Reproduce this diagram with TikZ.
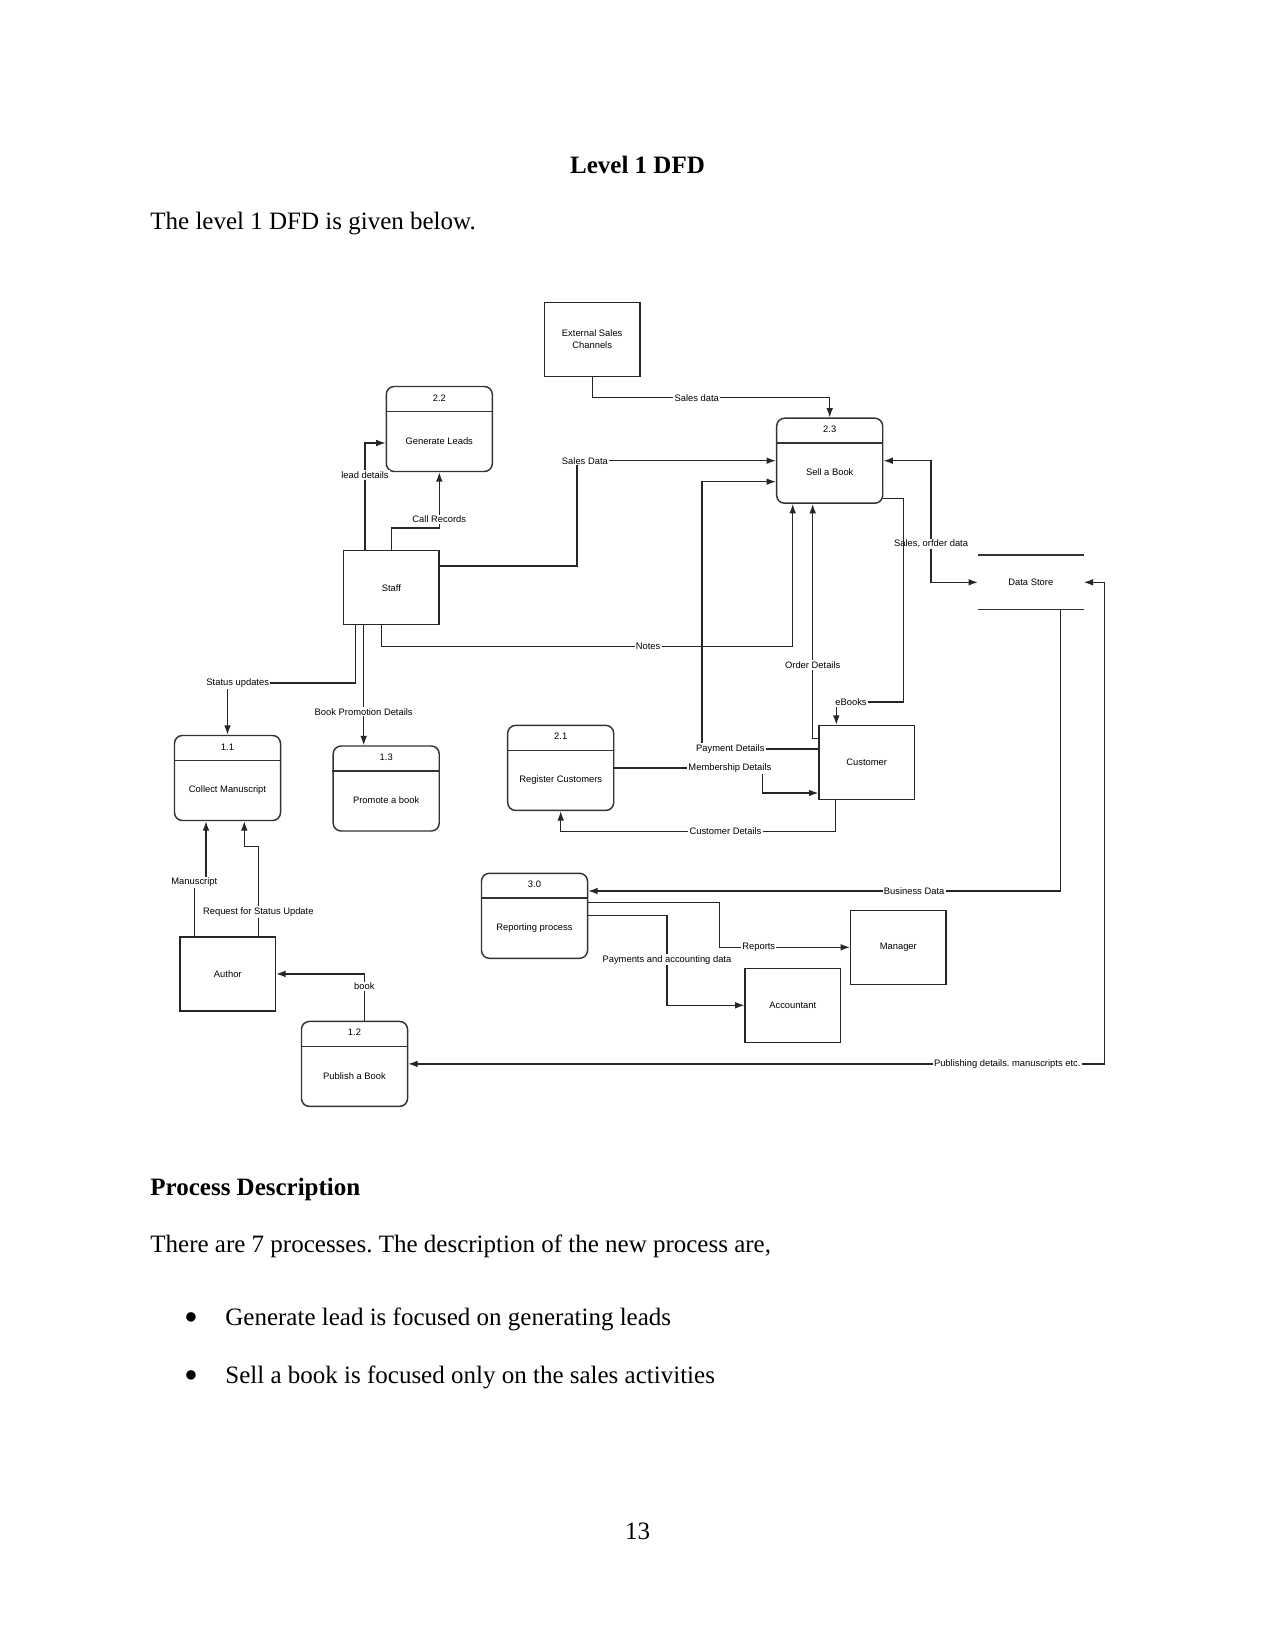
\documentclass[tikz,border=0pt]{standalone}
\usepackage{fontspec}
\setmainfont{Liberation Serif}
\newfontfamily\dfdfont{Liberation Sans}
\frenchspacing
\usetikzlibrary{calc,arrows.meta}
\tikzset{
	>={Latex[length=4.5pt,width=3.2pt]},
	proc/.style={draw=black!80, line width=0.7pt, rounded corners=3.8pt, minimum width=50.9pt, minimum height=40.8pt, inner sep=0pt},
	ent/.style={draw=black!85, line width=0.7pt, minimum width=45.7pt, minimum height=35.5pt, inner sep=0pt, align=center, font=\dfdfont\fontsize{4.5}{5.5}\selectfont},
	store/.style={minimum width=50.4pt, minimum height=25.6pt, inner sep=0pt, font=\dfdfont\fontsize{4.5}{5.4}\selectfont},
	divider/.style={draw=black!80, line width=0.7pt},
	txt/.style={inner sep=0pt, font=\dfdfont\fontsize{4.5}{5.4}\selectfont},
	lbl/.style={fill=white, inner sep=0.6pt, font=\dfdfont\fontsize{4.5}{5.4}\selectfont},
	flow/.style={draw=black!85, line width=0.6pt, ->},
	flowboth/.style={draw=black!85, line width=0.6pt, <->},
	page/.style={inner sep=0pt, font=\fontsize{12}{14.4}\selectfont},
	dot/.style={inner sep=0pt, font=\fontsize{19}{20}\selectfont},
}
\def\procbox(#1)(#2)[#3]#4{%
	\node[proc] (#1) at (#2) {};
	\draw[divider] ($(#1.north west)+(0,25.6)$) -- ($(#1.north east)+(0,25.6)$);
	\node[txt] (#1-no) at ($(#1.north)+(0,12)$) {#3};
	\node[txt] (#1-name) at ($(#1.center)+(0,11.8)$) {#4};
}

\begin{document}
\begin{tikzpicture}[x=0.48pt, y=-0.48pt]
			%%%%% START %%%%%
			
			\fill[white] (0,0) rectangle (1275,1650);
			
			\node[page, anchor=base] (title) at (637.5,173.5) {\bfseries Level 1 DFD};
			\node[page, anchor=base west] (intro) at (150,230) {The level 1 DFD is given below.};
			
			\procbox(p22)(439.3,429)[2.2]{Generate Leads}
			\procbox(p23)(829.7,460.7)[2.3]{Sell a Book}
			\procbox(p11)(227.5,778)[1.1]{Collect Manuscript}
			\procbox(p13)(386.2,788.5)[1.3]{Promote a book}
			\procbox(p21)(560.7,767.9)[2.1]{Register Customers}
			\procbox(p30)(534.5,915.8)[3.0]{Reporting process}
			\procbox(p12)(354.5,1063.9)[1.2]{Publish a Book}
			
			\node[ent] (ext) at (592.2,339.3) {External Sales\\Channels};
			\node[ent] (staff) at (391.3,587.7) {Staff};
			\node[ent] (cust) at (866.7,762.5) {Customer};
			\node[ent] (author) at (227.8,973.9) {Author};
			\node[ent] (mgr) at (898.3,947.3) {Manager};
			\node[ent] (acct) at (792.8,1005.3) {Accountant};
			
			\node[store] (ds) at (1030.8,582.3) {Data Store};
			\draw[divider] (ds.north west) -- (ds.north east);
			\draw[divider] (ds.south west) -- (ds.south east);
			
			\draw[flow] (ext.south) -- ++(0,20.7) -| (p23.north) node[lbl, pos=0.22] {Sales data};
			
			\draw[flow] ($(staff.north west)+(22,0)$) |- ($(p22.west)+(0,14)$) node[lbl, pos=0.35] {lead details};
			\draw[flow] (staff.north) -- ++(0,-22) -| (p22.south) node[lbl, pos=0.578] {Call Records};
			\draw[flow] ($(staff.east)+(0,-21.7)$) -- ++(137.3,0) |- (p23.west) node[lbl, pos=0.52] {Sales Data};
			\draw[flow] ($(staff.south)+(-9.6,0)$) -- ++(0,21.3) -| ($(p23.south)+(-37,0)$) node[lbl, pos=0.324] {Notes};
			\draw[flow] ($(staff.south)+(-36,0)$) -- ++(0,57.6) -| (p11.north) node[lbl, pos=0.46] {Status updates};
			\draw[flow] ($(staff.south)+(-27.6,0)$) -- ($(p13.north)+(-22.5,0)$) node[lbl, pos=0.72] {Book Promotion Details};
			
			\draw[flow] ($(author.north)+(-33.5,0)$) -- ++(0,-56.7) node[lbl, pos=0.95] {Manuscript} -| ($(p11.south)+(-21.5,0)$);
			\draw[flow] ($(author.north)+(30.5,0)$) -- ++(0,-90) node[lbl, pos=0.27] {Request for Status Update} -| ($(p11.south)+(16.8,0)$);
			\draw[flow] ($(p12.north)+(9.8,0)$) |- (author.east) node[lbl, pos=0.367] {book};
			
			\draw[flowboth] (p12.east) -| ($(ds.east)+(21,0)$) node[lbl, pos=0.43] {Publishing details. manuscripts etc.} -- (ds.east);
			\draw[flowboth] (p23.east) -- ++(47.6,0) |- (ds.west) node[lbl, pos=0.343] {Sales, orfder data};
			\draw[flow] ($(ds.south)+(29.7,0)$) |- ($(p30.east)+(0,-24.8)$) node[lbl, pos=0.655] {Business Data};
			
			\draw[flow] ($(p23.east)+(0,37.6)$) -| ($(cust.north)+(36.6,-22.7)$) -| ($(cust.north)+(-30.4,0)$) node[lbl, pos=0.39] {eBooks};
			\draw[flow] ($(cust.west)+(0,-24.2)$) -| ($(p23.south)+(-17,0)$) node[lbl, pos=0.656] {Order Details};
			\draw[flow] ($(cust.west)+(0,-13.5)$) -- ++(-116.3,0) node[lbl, pos=0.757] {Payment Details} |- ($(p23.west)+(0,21)$);
			\draw[flow] (p21.east) -- ++(148,0) node[lbl, pos=0.78] {Membership Details} |- ($(cust.west)+(0,30.5)$);
			\draw[flow] ($(cust.south)+(-31.4,0)$) -- ++(0,31.4) -| (p21.south) node[lbl, pos=0.2] {Customer Details};
			
			\draw[flow] ($(p30.east)+(0,-13.5)$) -- ++(131.4,0) |- (mgr.west) node[lbl, pos=0.65] {Reports};
			\draw[flow] (p30.east) -- ++(78.7,0) |- (acct.west) node[lbl, pos=0.245] {Payments and accounting data};
			
			\node[page, anchor=base west] (head) at (150,1195) {\bfseries Process Description};
			\node[page, anchor=base west] (count) at (150,1252) {There are 7 processes. The description of the new process are,};
			\node[dot, anchor=base] (dot1) at (191.7,1330) {\textbullet};
			\node[page, anchor=base west] (item1) at (225,1325.5) {Generate lead is focused on generating leads};
			\node[dot, anchor=base] (dot2) at (191.7,1388) {\textbullet};
			\node[page, anchor=base west] (item2) at (225,1383.5) {Sell a book is focused only on the sales activities};
			\node[page, anchor=base] (pgno) at (637.5,1539) {13};
			
			%%%%% END %%%%%
		\end{tikzpicture}
\end{document}
